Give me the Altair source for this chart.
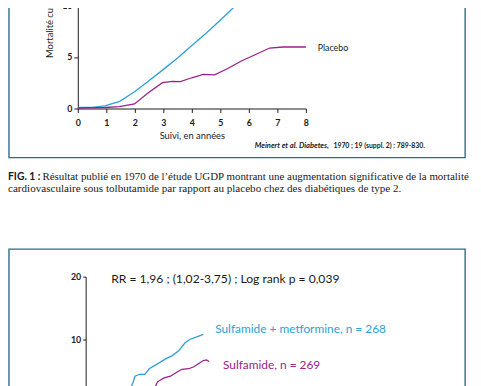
import altair as alt
import pandas as pd

# ---------------- data ----------------
# Top figure (UGDP, 1970): cumulative cardiovascular mortality (%)
top_years_tolb = [0, 0.5, 0.95, 1.47, 1.99, 2.45, 2.97, 3.5, 4.0, 4.5, 4.92, 5.3, 5.66, 5.9]
top_tolb = [0.1, 0.12, 0.26, 0.7, 1.63, 2.6, 3.72, 4.9, 6.1, 7.3, 8.36, 9.35, 10.3, 10.9]
top_years_plac = [0, 0.95, 1.46, 1.99, 2.45, 2.97, 3.31, 3.6, 4.0, 4.4, 4.8, 5.26, 5.72, 6.18, 6.73, 7.2, 8.0]
top_plac = [0.05, 0.1, 0.18, 0.45, 1.47, 2.5, 2.62, 2.6, 2.98, 3.3, 3.27, 3.88, 4.58, 5.16, 5.86, 5.96, 5.96]
top_x_ticks = [0, 1, 2, 3, 4, 5, 6, 7, 8]
top_y_ticks = [0, 5, 10]
top_series = ["Tolbutamide", "Placebo"]

# Bottom figure: sulfonylurea vs sulfonylurea + metformin
bot_years_combo = [2.55, 2.67, 2.79, 3.04, 3.35, 3.59, 4.06, 4.52, 4.89, 5.26, 5.63, 5.91, 6.28, 6.65]
bot_combo = [2.3, 3.13, 4.17, 4.48, 4.48, 5.36, 6.14, 6.92, 7.45, 8.23, 9.53, 10.05, 10.42, 10.83]
bot_years_sulf = [3.95, 4.06, 4.43, 4.79, 5.17, 5.44, 5.82, 6.09, 6.37, 6.65, 6.83, 6.98]
bot_sulf = [2.6, 3.28, 3.91, 4.17, 4.84, 5.27, 5.36, 5.63, 6.14, 6.67, 6.77, 6.52]
bot_y_ticks = [10, 20]
bot_series = ["Sulfamide +  metformine, n = 268", "Sulfamide, n = 269"]

# texts
top_x_title = "Suivi, en années"
top_y_title = "Mortalité cumulée (%)"
citation_it = "Meinert et al. Diabetes,"
citation_rest = "1970 ; 19 (suppl. 2) : 789-830."
caption_head = "FIG. 1 :"
caption_l1 = "Résultat publié en 1970 de l’étude UGDP montrant une augmentation significative de la mortalité"
caption_l2 = "cardiovasculaire sous tolbutamide par rapport au placebo chez des diabétiques de type 2."
rr_text = "RR = 1,96 ; (1,02-3,75) ; Log rank p = 0,039"

# ---------------- styles ----------------
BLUE = "#2da0d8"
MAGENTA = "#9a2189"
FRAME = "#2b6c8c"
INK = "#1a1a1a"
SANS = "Lato"
SERIF = "Liberation Serif"
W, H = 473, 378

color_scale = alt.Scale(domain=top_series + bot_series, range=[BLUE, MAGENTA, BLUE, MAGENTA])

# ---------------- top chart ----------------
top_df = pd.concat([
    pd.DataFrame({"year": top_years_tolb, "value": top_tolb, "series": top_series[0]}),
    pd.DataFrame({"year": top_years_plac, "value": top_plac, "series": top_series[1]}),
])
top_lab = pd.DataFrame({"year": [top_years_plac[-1]], "value": [top_plac[-1]], "label": ["Placebo"]})

top_x = alt.X("year:Q",
              scale=alt.Scale(domain=[0, 8], range=[71, 303], nice=False, zero=False),
              axis=alt.Axis(orient="bottom", offset=-279, values=top_x_ticks, format="d",
                            tickSize=4, labelPadding=6, labelFont=SANS, labelFontSize=9,
                            labelFontWeight="bold", labelColor=INK, labelFlush=False,
                            labelOverlap=False, tickColor=INK, domainColor=INK,
                            grid=False, title=top_x_title, titleFont=SANS, titleFontSize=9.5,
                            titleFontWeight="normal", titleColor=INK, titleY=28,
                            titleBaseline="middle"))
top_y = alt.Y("value:Q",
              scale=alt.Scale(domain=[0, 10], range=[99, -6], nice=False, zero=False),
              axis=alt.Axis(orient="left", offset=-71, values=top_y_ticks, tickSize=4,
                            labelPadding=2, labelFont=SANS, labelFontSize=9,
                            labelFontWeight="bold", labelColor=INK, labelFlush=False,
                            labelOverlap=False, tickColor=INK, domainColor=INK, grid=False,
                            title=top_y_title, titleFont=SANS, titleFontSize=9.5,
                            titleFontWeight="normal", titleColor=INK, titleAngle=270,
                            titleAlign="left", titleBaseline="middle", titleX=-29, titleY=47))

top_lines = alt.Chart(top_df).mark_line(strokeWidth=1.3).encode(
    x=top_x, y=top_y,
    color=alt.Color("series:N", scale=color_scale, legend=None),
    detail="series:N",
)
top_label = alt.Chart(top_lab).mark_text(align="left", baseline="middle", dx=12, dy=1,
                                         font=SANS, fontSize=9, color=INK).encode(
    x="year:Q", y="value:Q", text="label:N")
top_chart = alt.layer(top_lines, top_label)

# ---------------- bottom chart ----------------
bot_df = pd.concat([
    pd.DataFrame({"year": bot_years_combo, "value": bot_combo, "series": bot_series[0]}),
    pd.DataFrame({"year": bot_years_sulf, "value": bot_sulf, "series": bot_series[1]}),
])
bot_x = alt.X("year:Q", scale=alt.Scale(domain=[0, 8], range=[79, 223], nice=False, zero=False),
              axis=None)
bot_y = alt.Y("value:Q",
              scale=alt.Scale(domain=[0, 20], range=[398, 270], nice=False, zero=False),
              axis=alt.Axis(orient="left", offset=-79, values=bot_y_ticks, tickSize=3,
                            labelPadding=2, labelFont=SANS, labelFontSize=9,
                            labelFontWeight="bold", labelColor=INK, labelFlush=False,
                            labelOverlap=False, tickColor=INK, domainColor=INK, grid=False,
                            title=None))
bot_lines = alt.Chart(bot_df).mark_line(strokeWidth=1.3).encode(
    x=bot_x, y=bot_y,
    color=alt.Color("series:N", scale=color_scale, legend=None),
    detail="series:N",
)
lab_combo = alt.Chart(pd.DataFrame({"year": [bot_years_combo[-1]], "value": [bot_combo[-1]],
                                    "label": [bot_series[0]]})).mark_text(
    align="left", baseline="middle", dx=12, dy=-5, font=SANS, fontSize=12.1, color=BLUE).encode(
    x="year:Q", y="value:Q", text="label:N")
lab_sulf = alt.Chart(pd.DataFrame({"year": [bot_years_sulf[-1]], "value": [bot_sulf[-1]],
                                   "label": [bot_series[1]]})).mark_text(
    align="left", baseline="middle", dx=14, dy=4, font=SANS, fontSize=12.1, color=MAGENTA).encode(
    x="year:Q", y="value:Q", text="label:N")
bot_chart = alt.layer(bot_lines, lab_combo, lab_sulf)

# ---------------- page furniture ----------------
one = pd.DataFrame({"k": [0]})


def frame(y0, y1):
    return alt.Chart(one).mark_rect(fillOpacity=0, stroke=FRAME, strokeWidth=1.4).encode(
        x=alt.value(1), x2=alt.value(465), y=alt.value(y0), y2=alt.value(y1))


def label(text, x, y, **kw):
    return alt.Chart(pd.DataFrame({"t": [text]})).mark_text(
        align="left", baseline="middle", **kw).encode(
        x=alt.value(x), y=alt.value(y), text="t:N")


furniture = [
    frame(-10, 149),
    frame(242, 400),
    label(citation_it, 251, 137, font=SANS, fontSize=7.7, fontStyle="italic", fontWeight="bold", color=INK),
    label(citation_rest, 331, 137, font=SANS, fontSize=7, fontWeight="bold", color=INK),
    label(caption_head, 0, 169, font=SANS, fontSize=10.5, fontWeight="bold", color=INK),
    label(caption_l1, 35, 169, font=SERIF, fontSize=11.1, color=INK),
    label(caption_l2, 0, 181, font=SERIF, fontSize=11.3, color=INK),
    label(rr_text, 105, 272, font=SANS, fontSize=12.3, color=INK),
]

chart = alt.layer(*furniture, top_chart, bot_chart).resolve_scale(
    x="independent", y="independent"
).properties(
    width=W, height=H, padding=0,
    autosize=alt.AutoSizeParams(type="none"),
    background="white",
).configure_view(stroke=None)

chart.save("out.html", embed_options={"renderer": "svg", "actions": False})
